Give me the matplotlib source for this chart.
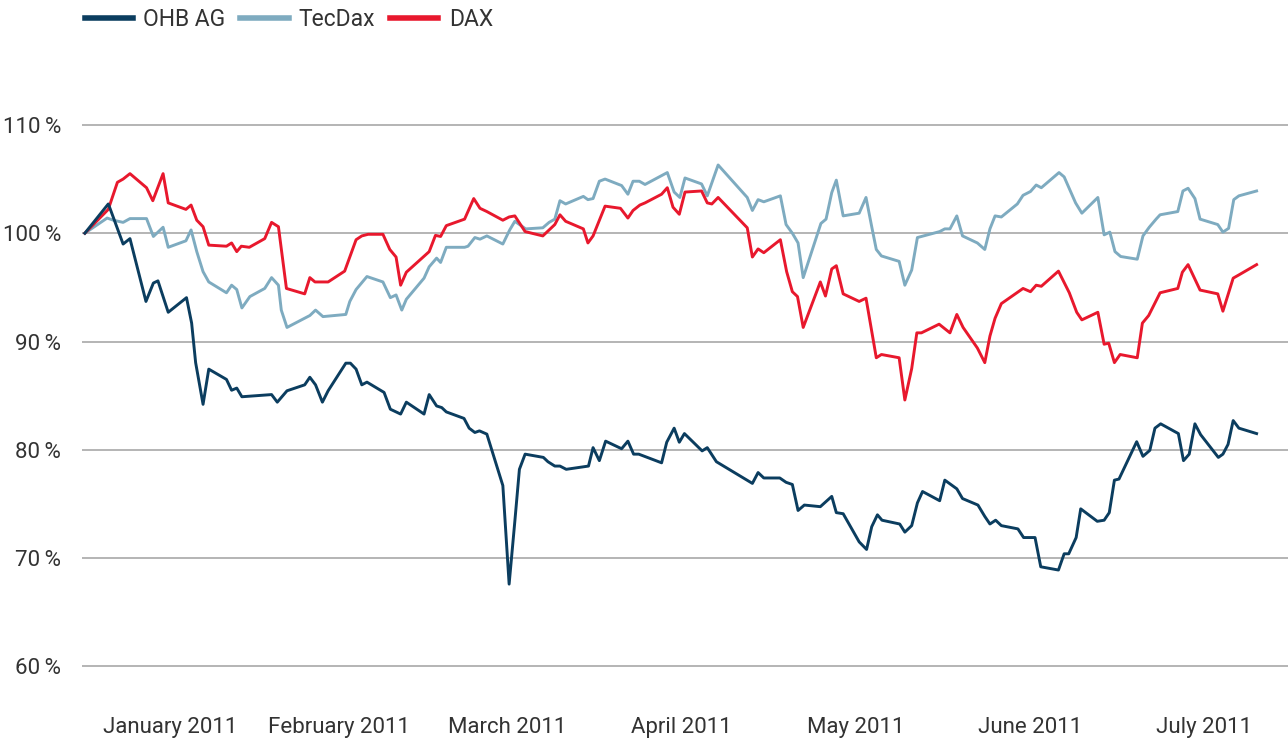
import matplotlib
matplotlib.use('Agg')
import matplotlib.pyplot as plt
import pandas as pd

plt.rcParams['font.family'] = ['Roboto', 'DejaVu Sans']

# x values are days since 1 Jan 2011, y values are % of the start level
DAX_DAYS = [0, 4.1, 5.7, 6.7, 7.9, 10.8, 11.9, 13.7, 14.6, 17.7, 18.6, 19.6, 20.7, 21.7, 24.8, 25.7,
            26.6, 27.4, 28.8, 31.5, 32.7, 33.9, 35.3, 38.5, 39.4, 40.3, 42.6, 45.5, 47.5, 48.5, 49.6,
            52.2, 53.4, 54.5, 55.3, 56.3, 60.3, 61.4, 62.3, 63.3, 66.5, 68.1, 69.2, 70.4, 73.2, 74.3,
            75.3, 77.1, 80.2, 82.3, 83.2, 84.2, 87.3, 88.1, 89.0, 91.1, 93.8, 95.1, 96.0, 97.2, 98.1,
            101.0, 102.0, 103.0, 104.1, 105.1, 108.0, 109.0, 109.8, 110.9, 116.0, 116.9, 117.9, 118.9,
            121.8, 122.9, 123.9, 124.8, 125.8, 128.8, 129.7, 130.8, 131.6, 132.8, 135.6, 136.8, 138.6,
            139.5, 142.6, 143.6, 144.8, 145.7, 146.5, 149.6, 151.5, 152.7, 153.8, 156.3, 157.6, 158.5,
            159.4, 160.5, 164.3, 165.6, 166.6, 167.5, 170.5, 172.4, 173.7, 174.6, 177.4, 178.5, 179.3,
            180.3, 181.3, 184.3, 185.2, 186.3, 188.3, 191.4, 192.2, 193.2, 195.3, 198.4, 199.3, 201.1,
            202.1, 205.2]
DAX_VALUES = [100, 102.2, 104.7, 105.0, 105.5, 104.2, 103.0, 105.5, 102.8, 102.2, 102.6, 101.2, 100.6,
              98.9, 98.8, 99.1, 98.3, 98.8, 98.7, 99.5, 101.0, 100.6, 94.9, 94.4, 95.9, 95.5, 95.5, 96.5,
              99.4, 99.75, 99.9, 99.9, 98.5, 97.8, 95.2, 96.4, 98.3, 99.8, 99.7, 100.7, 101.3, 103.2,
              102.3, 102.0, 101.2, 101.5, 101.6, 100.15, 99.75, 100.8, 101.7, 101.1, 100.4, 99.1, 99.75,
              102.5, 102.3, 101.4, 102.1, 102.6, 102.8, 103.6, 104.2, 102.4, 101.75, 103.8, 103.9, 102.8,
              102.7, 103.3, 100.5, 97.8, 98.55, 98.2, 99.4, 96.45, 94.6, 94.15, 91.3, 95.5, 94.2, 96.7,
              97.0, 94.4, 93.7, 94.0, 88.5, 88.8, 88.5, 84.6, 87.5, 90.8, 90.8, 91.6, 90.8, 92.5, 91.3,
              89.4, 88.05, 90.5, 92.15, 93.5, 94.9, 94.6, 95.2, 95.1, 96.5, 94.5, 92.7, 92.0, 92.7, 89.75,
              89.85, 88.05, 88.8, 88.5, 91.7, 92.4, 94.5, 94.9, 96.4, 97.1, 94.75, 94.4, 92.8, 95.85,
              96.15, 97.1]

TECDAX_DAYS = [0, 3.9, 5.0, 6.7, 7.9, 10.8, 12.0, 13.7, 14.6, 17.7, 18.6, 19.6, 20.7, 21.7, 24.8, 25.7,
               26.6, 27.5, 28.9, 31.5, 32.7, 33.9, 34.4, 35.4, 39.4, 40.4, 41.7, 45.7, 46.4, 47.5, 49.4,
               52.2, 53.5, 54.5, 55.5, 56.3, 59.4, 60.3, 61.6, 62.3, 63.3, 66.5, 67.1, 68.3, 69.2, 70.4,
               73.2, 74.4, 75.3, 77.2, 80.2, 81.3, 82.3, 83.2, 84.2, 87.3, 88.1, 89.0, 90.1, 91.1, 94.0,
               95.1, 96.0, 97.1, 98.1, 102.0, 103.2, 104.2, 105.1, 108.0, 109.0, 110.9, 116.0, 116.9,
               117.9, 118.9, 121.8, 122.8, 123.9, 124.9, 125.8, 128.9, 129.8, 130.8, 131.6, 132.8, 135.6,
               136.8, 137.8, 138.6, 139.5, 142.6, 143.6, 144.8, 145.8, 149.7, 150.6, 151.5, 152.7, 153.7,
               156.3, 157.6, 158.5, 159.4, 160.5, 163.3, 164.3, 165.6, 166.6, 167.5, 170.6, 171.5, 173.5,
               174.6, 177.4, 178.5, 179.5, 180.4, 181.4, 184.3, 185.3, 186.4, 187.6, 188.3, 191.4, 192.3,
               193.2, 194.4, 195.3, 198.4, 199.3, 200.3, 201.2, 202.1, 205.2]
TECDAX_VALUES = [100, 101.4, 101.2, 101.0, 101.35, 101.35, 99.7, 100.55, 98.7, 99.3, 100.3, 98.3, 96.45,
                 95.5, 94.5, 95.2, 94.8, 93.1, 94.15, 94.9, 95.9, 95.2, 92.9, 91.3, 92.4, 92.9, 92.3, 92.5,
                 93.7, 94.8, 96.0, 95.5, 94.05, 94.3, 92.9, 93.9, 95.85, 96.9, 97.7, 97.3, 98.7, 98.7,
                 98.8, 99.6, 99.45, 99.75, 99.0, 100.3, 101.1, 100.4, 100.5, 101.0, 101.3, 103.0, 102.7,
                 103.4, 103.1, 103.2, 104.8, 105.0, 104.4, 103.6, 104.8, 104.8, 104.5, 105.6, 103.8, 103.3,
                 105.1, 104.55, 103.45, 106.3, 103.3, 102.1, 103.1, 102.9, 103.45, 100.8, 100.0, 99.1,
                 95.9, 100.9, 101.3, 103.75, 104.9, 101.6, 101.85, 103.3, 100.6, 98.5, 97.9, 97.4, 95.2,
                 96.6, 99.6, 100.15, 100.4, 100.4, 101.6, 99.75, 99.1, 98.5, 100.4, 101.6, 101.5, 102.7,
                 103.5, 103.85, 104.45, 104.2, 105.6, 105.2, 102.8, 101.85, 103.3, 99.85, 100.1, 98.3,
                 97.85, 97.6, 99.75, 100.55, 101.3, 101.7, 102.0, 103.9, 104.15, 103.2, 101.3, 100.8,
                 100.1, 100.45, 103.1, 103.45, 103.9]

OHB_DAYS = [0, 4.1, 4.4, 6.7, 7.9, 10.7, 12.0, 12.8, 14.6, 17.8, 18.7, 19.4, 20.7, 21.7, 24.8, 25.7,
            26.6, 27.5, 32.7, 33.7, 35.4, 38.5, 39.4, 40.4, 41.6, 42.6, 45.7, 46.5, 47.5, 48.5, 49.4,
            52.4, 53.5, 55.3, 56.3, 59.4, 60.3, 61.6, 62.5, 63.3, 66.4, 67.3, 68.3, 69.1, 70.4, 73.2,
            74.3, 75.3, 76.1, 77.1, 80.3, 81.1, 82.3, 83.2, 84.3, 88.2, 89.0, 90.1, 91.2, 94.0, 95.1,
            96.1, 97.0, 101.0, 101.9, 103.2, 104.1, 105.0, 108.1, 109.0, 110.6, 116.9, 117.9, 118.9,
            121.7, 122.8, 123.9, 124.9, 126.0, 128.8, 130.8, 131.6, 132.8, 135.6, 136.9, 137.8, 138.8,
            139.6, 142.7, 143.6, 144.8, 145.8, 146.7, 149.7, 150.6, 152.7, 153.7, 156.4, 157.6, 158.5,
            159.5, 160.5, 163.4, 164.4, 166.4, 167.4, 170.5, 171.5, 172.3, 173.6, 174.4, 177.3, 178.5,
            179.4, 180.3, 181.1, 184.2, 185.3, 186.5, 187.4, 188.4, 191.5, 192.4, 193.4, 194.4, 195.4,
            198.5, 199.3, 200.2, 201.1, 202.1, 205.2]
OHB_VALUES = [100, 102.7, 102.3, 99.0, 99.5, 93.7, 95.4, 95.6, 92.7, 94.05, 91.7, 88.05, 84.2, 87.45,
              86.5, 85.5, 85.7, 84.9, 85.1, 84.4, 85.45, 86.0, 86.7, 86.0, 84.4, 85.45, 88.0, 88.0, 87.45,
              86.0, 86.25, 85.3, 83.75, 83.3, 84.4, 83.3, 85.1, 84.05, 83.9, 83.5, 82.9, 82.0, 81.6,
              81.75, 81.45, 76.7, 67.6, 73.4, 78.2, 79.6, 79.3, 78.9, 78.5, 78.5, 78.2, 78.5, 80.2, 79.0,
              80.8, 80.1, 80.8, 79.6, 79.6, 78.8, 80.7, 82.0, 80.7, 81.5, 79.9, 80.2, 78.9, 76.9, 77.9,
              77.4, 77.4, 77.0, 76.8, 74.4, 74.9, 74.75, 75.7, 74.2, 74.1, 71.5, 70.8, 72.9, 74.0, 73.5,
              73.15, 72.4, 73.0, 75.1, 76.15, 75.3, 77.2, 76.4, 75.5, 74.9, 73.85, 73.15, 73.5, 73.0,
              72.7, 71.9, 71.9, 69.2, 68.9, 70.4, 70.4, 71.9, 74.55, 73.4, 73.5, 74.2, 77.2, 77.3, 80.75,
              79.4, 79.95, 82.0, 82.4, 81.5, 79.0, 79.6, 82.4, 81.4, 79.3, 79.6, 80.5, 82.7, 82.0, 81.5]

Y_TICKS = [60, 70, 80, 90, 100, 110]
MONTHS = ['January', 'February', 'March', 'April', 'May', 'June', 'July']

OHB_COLOR = '#0b3d5f'
TECDAX_COLOR = '#7eabc0'
DAX_COLOR = '#e8182d'
TEXT_COLOR = '#333333'

fig = plt.figure(figsize=(12.88, 7.40), dpi=100)
ax = fig.add_axes([82 / 1288, 40 / 740, 1206 / 1288, 600 / 740])

ax.plot(TECDAX_DAYS, TECDAX_VALUES, color=TECDAX_COLOR, lw=2.1, label='TecDax', zorder=3)
ax.plot(DAX_DAYS, DAX_VALUES, color=DAX_COLOR, lw=2.1, label='DAX', zorder=4)
ax.plot(OHB_DAYS, OHB_VALUES, color=OHB_COLOR, lw=2.1, label='OHB AG', zorder=5)

ax.set_xlim(-0.5, 210.7)
ax.set_ylim(56.9, 112.3)

# month labels sit in the middle of each month
start = pd.Timestamp('2011-01-01')
month_starts = pd.date_range('2011-01-01', periods=len(MONTHS), freq='MS')
mid = [(m - start).days + (m.days_in_month - 1) / 2 for m in month_starts]
ax.set_xticks(mid)
ax.set_xticklabels([f'{m} 2011' for m in MONTHS])
ax.set_yticks(Y_TICKS)
ax.set_yticklabels([f'{v}\u2009%' for v in Y_TICKS], family=['Roboto', 'DejaVu Sans'])

ax.tick_params(axis='both', length=0, labelsize=16, colors=TEXT_COLOR)
ax.tick_params(axis='x', pad=12)
ax.tick_params(axis='y', pad=15)
ax.grid(axis='y', color='#b4b4b4', lw=1.4)
ax.set_axisbelow(True)
for side in ax.spines.values():
    side.set_visible(False)

handles, labels = ax.get_legend_handles_labels()
order = [2, 0, 1]
leg = fig.legend([handles[i] for i in order], [labels[i] for i in order],
                 loc='upper left', bbox_to_anchor=(85 / 1288, 1 - 8 / 740), ncol=3,
                 frameon=False, fontsize=16.5, handlelength=2.1, handletextpad=0.45,
                 columnspacing=0.65, borderpad=0, borderaxespad=0)
for line in leg.get_lines():
    line.set_linewidth(4)
for t in leg.get_texts():
    t.set_color(TEXT_COLOR)

fig.savefig('out.png', dpi=100)
